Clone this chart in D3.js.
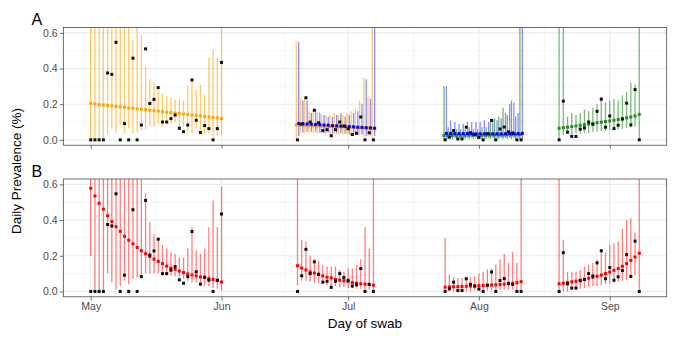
<!DOCTYPE html>
<html lang="en">
<head>
  <meta charset="UTF-8">
  <title>Daily Prevalence</title>
  <script src="https://d3js.org/d3.v7.min.js"></script>
  <style>
    body { margin: 0; background: #fff; font-family: "Liberation Sans", Arial, sans-serif; }
  </style>
</head>
<body>
  <div id="chart"></div>
  <script>
    // first day of each swab wave, counted in days after 1 May
    const waveStarts = [0, 49, 84, 111];

    // observed daily prevalence (%)
    const obs1 = [0,0,0,0,0.375,0.367,0.547,0,0.091,0,0.458,0,0.083,0.51,0.204,0.227,0.293,0.1,0.1,0.119,0.139,0.065,0.046,0.083,0.336,0.11,0.041,0.08,0.063,0,0.063,0.434];
    const obs2 = [0,0.088,0.236,0.1,0.166,0.096,0.052,0.057,0.023,0.057,0.1,0.078,0.062,0.03,0.037,0.128,0,0.04,0];
    const obs3 = [0,0.015,0.052,0.005,0.005,0.071,0.04,0.03,0.013,0,0.035,0.109,0,0.061,0.072,0.045,0.039,0,0];
    const obs4 = [0,0.217,0.043,0.019,0.019,0.06,0.067,0.1,0.087,0.16,0.228,0.071,0.134,0.063,0.082,0.117,0.206,0.084,0.282,0];

    // panel A : orange model (waves 1-2)
    const orangeEst1 = [0.204,0.201,0.198,0.196,0.193,0.190,0.187,0.185,0.182,0.179,0.177,0.174,0.171,0.169,0.166,0.163,0.161,0.158,0.155,0.153,0.150,0.147,0.144,0.142,0.139,0.136,0.134,0.131,0.128,0.126,0.123,0.120];
    const orangeLo1 = [0,0,0,0,0.03,0.065,0.04,0.083,0.04,0.065,0.038,0.04,0.055,0.06,0.075,0.075,0.09,0.075,0.09,0.09,0.097,0.075,0.075,0.04,0.04,0.065,0.04,0.035,0.035,0.015,0.025,0.025];
    const orangeHi1 = [0.9,0.9,0.9,0.9,0.9,0.9,0.9,0.9,0.9,0.9,0.56,0.9,0.59,0.41,0.34,0.32,0.28,0.26,0.245,0.236,0.228,0.228,0.222,0.3,0.34,0.28,0.31,0.25,0.46,0.51,0.46,0.9];
    const orangeEst2 = [0.083,0.082,0.081,0.080,0.079,0.078,0.077,0.076,0.075,0.074,0.073,0.072,0.071,0.070,0.069,0.068,0.067,0.066,0.065];
    const orangeLo2 = [0.01,0.035,0.04,0.04,0.04,0.035,0.035,0.03,0.03,0.03,0.03,0.03,0.03,0.025,0.025,0.025,0.015,0.02,0.01];
    const orangeHi2 = [0.55,0.23,0.23,0.16,0.17,0.15,0.14,0.14,0.14,0.15,0.14,0.14,0.15,0.16,0.17,0.22,0.35,0.24,0.9];

    // panel A : blue model (waves 2-3)
    const blueEst2 = [0.092,0.091,0.089,0.088,0.086,0.085,0.083,0.082,0.080,0.079,0.077,0.076,0.074,0.073,0.071,0.070,0.068,0.067,0.065];
    const blueLo2 = [0.02,0.04,0.045,0.045,0.045,0.04,0.04,0.04,0.035,0.035,0.035,0.035,0.03,0.03,0.03,0.03,0.02,0.025,0.02];
    const blueHi2 = [0.55,0.22,0.22,0.15,0.17,0.15,0.14,0.13,0.13,0.14,0.15,0.13,0.14,0.15,0.16,0.2,0.34,0.23,0.9];
    const blueEst3 = [0.036,0.036,0.035,0.035,0.035,0.035,0.034,0.034,0.034,0.034,0.034,0.034,0.034,0.034,0.034,0.035,0.035,0.035,0.036];
    const blueLo3 = [0.005,0.01,0.01,0.01,0.01,0.01,0.01,0.01,0.01,0.01,0.01,0.01,0.01,0.01,0.01,0.01,0.01,0.01,0.005];
    const blueHi3 = [0.3,0.11,0.1,0.09,0.09,0.1,0.1,0.1,0.1,0.11,0.1,0.11,0.11,0.12,0.15,0.2,0.21,0.15,0.9];

    // panel A : green model (waves 3-4)
    const greenEst3 = [0.024,0.024,0.025,0.025,0.025,0.025,0.026,0.026,0.026,0.026,0.026,0.027,0.027,0.027,0.027,0.028,0.028,0.028,0.029];
    const greenLo3 = [0,0.005,0.005,0.005,0.005,0.005,0.005,0.005,0.005,0.005,0.005,0.005,0.005,0.005,0.005,0.005,0.005,0.005,0];
    const greenHi3 = [0.3,0.07,0.06,0.06,0.06,0.06,0.07,0.06,0.06,0.07,0.07,0.1,0.12,0.13,0.18,0.14,0.22,0.13,0.9];
    const greenEst4 = [0.065,0.068,0.071,0.075,0.078,0.082,0.085,0.089,0.092,0.096,0.099,0.103,0.106,0.110,0.114,0.118,0.123,0.128,0.134,0.143];
    const greenLo4 = [0,0.028,0.035,0.03,0.035,0.035,0.04,0.04,0.045,0.045,0.05,0.05,0.055,0.055,0.06,0.06,0.065,0.07,0.075,0];
    const greenHi4 = [0.9,0.9,0.13,0.15,0.14,0.15,0.17,0.16,0.18,0.2,0.24,0.21,0.22,0.23,0.22,0.25,0.27,0.32,0.31,0.9];

    // panel B : red model (all waves)
    const redEst1 = [0.578,0.535,0.494,0.461,0.424,0.392,0.363,0.337,0.309,0.287,0.267,0.246,0.228,0.211,0.196,0.181,0.168,0.156,0.142,0.131,0.124,0.114,0.106,0.098,0.092,0.087,0.081,0.078,0.072,0.067,0.061,0.053];
    const redLo1 = [0.198,0,0,0,0.1,0.05,0.01,0.03,0.06,0.04,0.07,0.08,0.08,0.1,0.1,0.1,0.1,0.09,0.09,0.09,0.085,0.08,0.07,0.06,0.05,0.05,0.04,0.03,0.03,0.02,0.015,0.005];
    const redHi1 = [0.9,0.9,0.9,0.9,0.9,0.9,0.9,0.9,0.9,0.9,0.9,0.9,0.9,0.55,0.39,0.32,0.29,0.26,0.24,0.22,0.21,0.19,0.19,0.24,0.36,0.23,0.21,0.24,0.36,0.51,0.36,0.59];
    const redEst2 = [0.144,0.131,0.12,0.109,0.103,0.096,0.087,0.08,0.076,0.067,0.063,0.06,0.056,0.05,0.046,0.043,0.041,0.039,0.035];
    const redLo2 = [0.033,0.06,0.06,0.055,0.05,0.045,0.04,0.035,0.03,0.03,0.025,0.025,0.02,0.02,0.015,0.015,0.005,0.01,0.005];
    const redHi2 = [0.9,0.29,0.28,0.2,0.18,0.17,0.15,0.14,0.14,0.14,0.12,0.11,0.13,0.13,0.15,0.18,0.36,0.24,0.9];
    const redEst3 = [0.024,0.025,0.026,0.027,0.028,0.029,0.030,0.031,0.032,0.033,0.034,0.036,0.037,0.039,0.041,0.043,0.046,0.049,0.055];
    const redLo3 = [0,0,0,0,0,0,0,0.005,0.005,0.005,0.005,0.005,0.01,0.01,0.01,0.01,0.01,0.01,0.01];
    const redHi3 = [0.3,0.095,0.08,0.075,0.075,0.08,0.08,0.085,0.1,0.11,0.125,0.13,0.15,0.18,0.21,0.16,0.22,0.16,0.9];
    const redEst4 = [0.043,0.046,0.05,0.054,0.057,0.063,0.068,0.074,0.079,0.085,0.092,0.1,0.109,0.118,0.128,0.141,0.156,0.174,0.193,0.214];
    const redLo4 = [0.01,0,0,0.005,0.01,0.015,0.02,0.025,0.03,0.03,0.035,0.04,0.045,0.05,0.055,0.06,0.065,0.075,0.09,0];
    const redHi4 = [0.9,0.29,0.11,0.11,0.11,0.12,0.14,0.15,0.16,0.18,0.23,0.22,0.26,0.27,0.28,0.35,0.4,0.41,0.33,0.9];

    const yTicks = [0, 0.2, 0.4, 0.6];
    const yMinor = [0.1, 0.3, 0.5];

    const width = 678, height = 343;
    const left = 63.3, right = 666.7;

    const base = Date.UTC(2020, 4, 1);
    const day = d => new Date(base + d * 864e5);

    const x = d3.scaleUtc().domain([day(-6.5), day(136.5)]).range([left, right]);
    const months = x.ticks(d3.utcMonth.every(1));
    const monthMids = d3.pairs(months, (a, b) => new Date((+a + +b) / 2));

    const svg = d3.select("#chart").append("svg")
      .attr("width", width).attr("height", height)
      .style("font-family", '"Liberation Sans", Arial, sans-serif');

    const panels = [
      {id: "A", top: 27.5, bottom: 145.2, labels: false},
      {id: "B", top: 179, bottom: 296.8, labels: true}
    ];
    panels.forEach(p => {
      p.y = d3.scaleLinear().domain([-0.03, 0.63]).range([p.bottom, p.top]);
    });

    const layers = [
      {panel: 0, color: "#FFA500", start: waveStarts[0], est: orangeEst1, lo: orangeLo1, hi: orangeHi1, dx: 0, op: 0.6},
      {panel: 0, color: "#FFA500", start: waveStarts[1], est: orangeEst2, lo: orangeLo2, hi: orangeHi2, dx: -1.2, op: 0.6},
      {panel: 0, color: "#0000FF", start: waveStarts[1], est: blueEst2, lo: blueLo2, hi: blueHi2, dx: 1.2, op: 0.45},
      {panel: 0, color: "#228B22", start: waveStarts[2], est: greenEst3, lo: greenLo3, hi: greenHi3, dx: -1.2, op: 0.65},
      {panel: 0, color: "#0000FF", start: waveStarts[2], est: blueEst3, lo: blueLo3, hi: blueHi3, dx: 1.2, op: 0.45},
      {panel: 0, color: "#228B22", start: waveStarts[3], est: greenEst4, lo: greenLo4, hi: greenHi4, dx: 0, op: 0.6},
      {panel: 1, color: "#FF0000", start: waveStarts[0], est: redEst1, lo: redLo1, hi: redHi1, dx: 0, op: 0.5},
      {panel: 1, color: "#FF0000", start: waveStarts[1], est: redEst2, lo: redLo2, hi: redHi2, dx: 0, op: 0.5},
      {panel: 1, color: "#FF0000", start: waveStarts[2], est: redEst3, lo: redLo3, hi: redHi3, dx: 0, op: 0.5},
      {panel: 1, color: "#FF0000", start: waveStarts[3], est: redEst4, lo: redLo4, hi: redHi4, dx: 0, op: 0.5}
    ];

    const observed = [obs1, obs2, obs3, obs4].flatMap((arr, w) =>
      arr.map((v, i) => ({d: waveStarts[w] + i, v})));

    panels.forEach((p, pi) => {
      const g = svg.append("g");
      const y = p.y;

      g.append("rect").attr("x", left).attr("y", p.top)
        .attr("width", right - left).attr("height", p.bottom - p.top).attr("fill", "#fff");

      // minor grid
      g.selectAll(".hmin").data(yMinor).enter().append("line")
        .attr("x1", left).attr("x2", right).attr("y1", d => y(d)).attr("y2", d => y(d))
        .attr("stroke", "#f0f0f0").attr("stroke-width", 0.6);
      g.selectAll(".vmin").data(monthMids).enter().append("line")
        .attr("y1", p.top).attr("y2", p.bottom).attr("x1", d => x(d)).attr("x2", d => x(d))
        .attr("stroke", "#f0f0f0").attr("stroke-width", 0.6);
      // major grid
      g.selectAll(".hmaj").data(yTicks).enter().append("line")
        .attr("x1", left).attr("x2", right).attr("y1", d => y(d)).attr("y2", d => y(d))
        .attr("stroke", "#ebebeb").attr("stroke-width", 1.1);
      g.selectAll(".vmaj").data(months).enter().append("line")
        .attr("y1", p.top).attr("y2", p.bottom).attr("x1", d => x(d)).attr("x2", d => x(d))
        .attr("stroke", "#ebebeb").attr("stroke-width", 1.1);

      svg.append("clipPath").attr("id", "clip" + pi).append("rect")
        .attr("x", left).attr("y", p.top).attr("width", right - left).attr("height", p.bottom - p.top);
      const plot = g.append("g").attr("clip-path", `url(#clip${pi})`);

      layers.filter(l => l.panel === pi).forEach(l => {
        const rows = l.est.map((e, i) => ({d: l.start + i, e, lo: l.lo[i], hi: l.hi[i]}));
        plot.append("g").selectAll("line").data(rows).enter().append("line")
          .attr("x1", r => x(day(r.d)) + l.dx).attr("x2", r => x(day(r.d)) + l.dx)
          .attr("y1", r => y(r.lo)).attr("y2", r => y(r.hi))
          .attr("stroke", l.color).attr("stroke-opacity", l.op).attr("stroke-width", 1.3);
        plot.append("g").selectAll("rect").data(rows).enter().append("rect")
          .attr("x", r => x(day(r.d)) + l.dx - 1.5).attr("y", r => y(r.e) - 1.5)
          .attr("width", 3).attr("height", 3).attr("fill", l.color);
      });

      plot.append("g").selectAll("rect").data(observed).enter().append("rect")
        .attr("x", o => x(day(o.d)) - 1.5).attr("y", o => y(o.v) - 1.5)
        .attr("width", 3).attr("height", 3).attr("fill", "#111");

      g.append("rect").attr("x", left).attr("y", p.top)
        .attr("width", right - left).attr("height", p.bottom - p.top)
        .attr("fill", "none").attr("stroke", "#333").attr("stroke-width", 0.7);

      const yAxis = g.append("g").attr("transform", `translate(${left},0)`)
        .call(d3.axisLeft(y).tickValues(yTicks).tickFormat(d3.format(".1f")).tickSize(3.6).tickPadding(2));
      const xAxis = g.append("g").attr("transform", `translate(0,${p.bottom})`)
        .call(d3.axisBottom(x).tickValues(months)
          .tickFormat(p.labels ? d3.utcFormat("%b") : () => "").tickSize(3.6).tickPadding(2.5));
      [yAxis, xAxis].forEach(a => {
        a.select(".domain").remove();
        a.selectAll(".tick line").attr("stroke", "#333").attr("stroke-width", 0.7);
        a.selectAll("text").attr("fill", "#4d4d4d").style("font-size", "10.5px")
          .style("font-family", '"Liberation Sans", Arial, sans-serif');
      });

      svg.append("text").attr("x", 31.5).attr("y", p.id === "A" ? 25 : 176.8)
        .style("font-size", "16px").attr("fill", "#000").text(p.id);
    });

    svg.append("text")
      .attr("transform", "translate(21,171) rotate(-90)")
      .attr("text-anchor", "middle").style("font-size", "13.5px").text("Daily Prevalence (%)");

    svg.append("text").attr("x", (left + right) / 2).attr("y", 328)
      .attr("text-anchor", "middle").style("font-size", "13.5px").text("Day of swab");
  </script>
</body>
</html>
